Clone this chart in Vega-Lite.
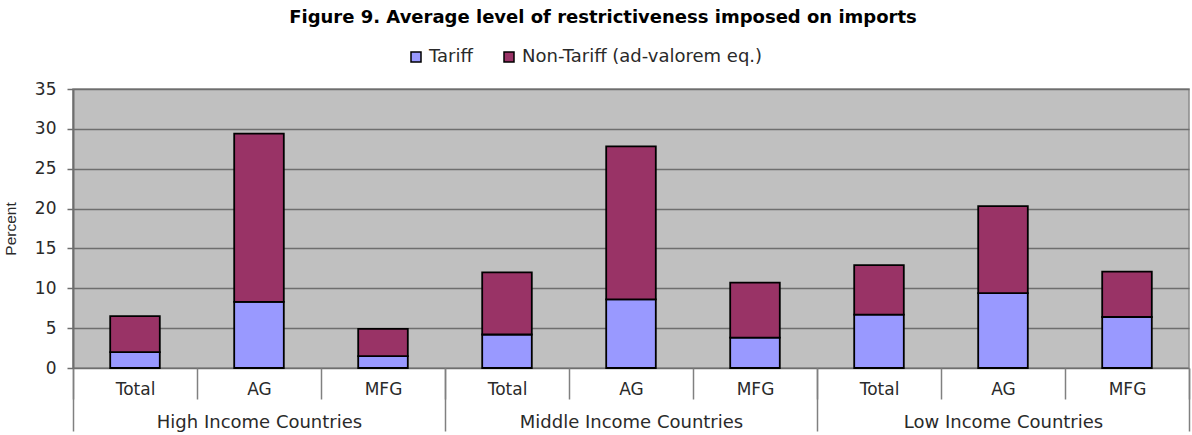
{
  "$schema": "https://vega.github.io/schema/vega-lite/v6.json",
  "autosize": {"type": "none"},
  "padding": {"left": 73, "top": 89, "right": 3, "bottom": 67},
  "width": 1116,
  "height": 279,
  "title": {
    "text": "Figure 9. Average level of restrictiveness imposed on imports",
    "anchor": "middle",
    "dx": -28,
    "offset": 21,
    "font": "DejaVu Sans",
    "fontSize": 18,
    "fontWeight": "bold",
    "color": "#000000"
  },
  "data": {
    "values": [
      {"group": "High Income Countries", "slot": "1 Total", "type": "Tariff", "value": 2.0},
      {"group": "High Income Countries", "slot": "1 Total", "type": "Non-Tariff (ad-valorem eq.)", "value": 4.5},
      {"group": "High Income Countries", "slot": "2 AG", "type": "Tariff", "value": 8.3},
      {"group": "High Income Countries", "slot": "2 AG", "type": "Non-Tariff (ad-valorem eq.)", "value": 21.1},
      {"group": "High Income Countries", "slot": "3 MFG", "type": "Tariff", "value": 1.5},
      {"group": "High Income Countries", "slot": "3 MFG", "type": "Non-Tariff (ad-valorem eq.)", "value": 3.4},
      {"group": "Middle Income Countries", "slot": "4 Total", "type": "Tariff", "value": 4.2},
      {"group": "Middle Income Countries", "slot": "4 Total", "type": "Non-Tariff (ad-valorem eq.)", "value": 7.8},
      {"group": "Middle Income Countries", "slot": "5 AG", "type": "Tariff", "value": 8.6},
      {"group": "Middle Income Countries", "slot": "5 AG", "type": "Non-Tariff (ad-valorem eq.)", "value": 19.2},
      {"group": "Middle Income Countries", "slot": "6 MFG", "type": "Tariff", "value": 3.8},
      {"group": "Middle Income Countries", "slot": "6 MFG", "type": "Non-Tariff (ad-valorem eq.)", "value": 6.9},
      {"group": "Low Income Countries", "slot": "7 Total", "type": "Tariff", "value": 6.7},
      {"group": "Low Income Countries", "slot": "7 Total", "type": "Non-Tariff (ad-valorem eq.)", "value": 6.2},
      {"group": "Low Income Countries", "slot": "8 AG", "type": "Tariff", "value": 9.4},
      {"group": "Low Income Countries", "slot": "8 AG", "type": "Non-Tariff (ad-valorem eq.)", "value": 10.9},
      {"group": "Low Income Countries", "slot": "9 MFG", "type": "Tariff", "value": 6.4},
      {"group": "Low Income Countries", "slot": "9 MFG", "type": "Non-Tariff (ad-valorem eq.)", "value": 5.7}
    ]
  },
  "layer": [
    {
      "mark": {"type": "bar", "stroke": "#000000", "strokeWidth": 1.8, "width": {"band": 0.4}},
      "encoding": {
        "x": {
          "field": "slot",
          "type": "nominal",
          "sort": null,
          "scale": {"paddingInner": 0, "paddingOuter": 0},
          "axis": {
            "title": null,
            "orient": "bottom",
            "domain": false,
            "tickBand": "extent",
            "tickSize": 31,
            "tickColor": "#808080",
            "tickWidth": 1.5,
            "labelAngle": 0,
            "labelPadding": -18,
            "labelBaseline": "top",
            "labelFontSize": 17,
            "labelExpr": "split(datum.value, ' ')[1]"
          }
        },
        "y": {
          "field": "value",
          "type": "quantitative",
          "stack": "zero",
          "scale": {"domain": [0, 35], "nice": false},
          "axis": {
            "title": "Percent",
            "values": [0, 5, 10, 15, 20, 25, 30, 35],
            "grid": true,
            "gridColor": "#6e6e6e",
            "gridWidth": 1.5,
            "domain": true,
            "domainColor": "#6e6e6e",
            "domainWidth": 2,
            "tickSize": 6,
            "tickColor": "#6e6e6e",
            "tickWidth": 1.5,
            "labelPadding": 11,
            "labelFontSize": 17,
            "titlePadding": 16,
            "titleFont": "Liberation Sans",
            "titleFontWeight": "normal",
            "titleFontSize": 15.5
          }
        },
        "color": {
          "field": "type",
          "type": "nominal",
          "sort": ["Tariff", "Non-Tariff (ad-valorem eq.)"],
          "scale": {"range": ["#9999ff", "#993366"]},
          "legend": {
            "title": null,
            "orient": "none",
            "direction": "horizontal",
            "legendX": 334,
            "legendY": -41,
            "symbolType": "square",
            "symbolSize": 100,
            "symbolStrokeColor": "#000000",
            "symbolStrokeWidth": 1.5,
            "labelFontSize": 18,
            "labelLimit": 500,
            "labelOffset": 4,
            "columnPadding": 27
          }
        },
        "order": {"field": "type", "sort": "descending"}
      }
    },
    {
      "mark": {"type": "rule", "opacity": 0},
      "encoding": {
        "x": {
          "field": "group",
          "type": "nominal",
          "sort": null,
          "scale": {"type": "band", "paddingInner": 0, "paddingOuter": 0},
          "axis": {
            "title": null,
            "orient": "bottom",
            "domain": false,
            "tickBand": "extent",
            "tickSize": 63,
            "tickColor": "#808080",
            "tickWidth": 1.5,
            "labelAngle": 0,
            "labelPadding": -18,
            "labelBaseline": "top",
            "labelFontSize": 18,
            "labelLimit": 400
          }
        }
      }
    }
  ],
  "resolve": {"scale": {"x": "independent"}, "axis": {"x": "independent"}},
  "config": {
    "font": "DejaVu Sans",
    "view": {"fill": "#c0c0c0", "stroke": "#8a8a8a", "strokeWidth": 1.5},
    "axis": {
      "labelFont": "DejaVu Sans",
      "labelColor": "#2a2a2a",
      "titleColor": "#2a2a2a"
    },
    "legend": {"labelFont": "DejaVu Sans", "labelColor": "#2a2a2a"}
  }
}
